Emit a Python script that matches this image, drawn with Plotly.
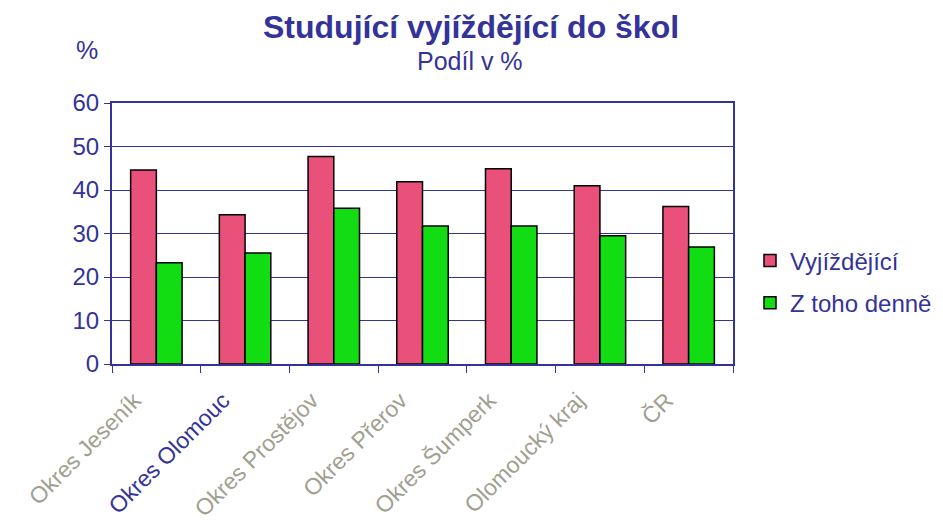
import plotly.graph_objects as go

categories = ["Okres Jeseník", "Okres Olomouc", "Okres Prostějov", "Okres Přerov",
              "Okres Šumperk", "Olomoucký kraj", "ČR"]
vyjizdejici = [44.6, 34.3, 47.7, 41.9, 44.9, 41.0, 36.2]
z_toho_denne = [23.3, 25.5, 35.8, 31.7, 31.7, 29.5, 26.9]
series_names = ["Vyjíždějící", "Z toho denně"]
y_ticks = [0, 10, 20, 30, 40, 50, 60]
label_colors = ["#A0A090", "#333399", "#A0A090", "#A0A090", "#A0A090", "#A0A090", "#A0A090"]

NAVY = "#333399"
FONT = "Liberation Sans, Arial, sans-serif"

ticktext = [f'<span style="color:{c}">{t}</span>' for t, c in zip(categories, label_colors)]

fig = go.Figure()
fig.add_trace(go.Bar(x=categories, y=vyjizdejici, name=series_names[0],
                     legendgroup="a",
                     marker=dict(color="#E9507A", line=dict(color="black", width=1.5))))
fig.add_trace(go.Bar(x=categories, y=z_toho_denne, name=series_names[1],
                     legendgroup="b",
                     marker=dict(color="#12DD12", line=dict(color="black", width=1.5))))

L, R, T, B = 112, 210, 103, 162
W, H = 943, 526
pw, ph = W - L - R, H - T - B

def px(x):
    return (x - L) / pw

def py(y):
    return (H - B - y) / ph

fig.update_layout(
    width=W, height=H,
    margin=dict(l=L, r=R, t=T, b=B, autoexpand=False),
    paper_bgcolor="white", plot_bgcolor="white",
    barmode="group", bargap=0.42, bargroupgap=0,
    font=dict(family=FONT, color=NAVY),
    showlegend=True,
    legend=dict(x=px(750), y=py(282), xanchor="left", yanchor="middle",
                font=dict(size=24, color=NAVY), tracegroupgap=8,
                bgcolor="rgba(0,0,0,0)"),
    annotations=[
        dict(text="<b>Studující vyjíždějící do škol</b>", x=px(471), y=py(27),
             xref="paper", yref="paper", xanchor="center", yanchor="middle", showarrow=False,
             font=dict(size=32, color=NAVY, family=FONT)),
        dict(text="Podíl v %", x=px(470), y=py(61),
             xref="paper", yref="paper", xanchor="center", yanchor="middle", showarrow=False,
             font=dict(size=25, color=NAVY, family=FONT)),
        dict(text="%", x=px(87), y=py(50),
             xref="paper", yref="paper", xanchor="center", yanchor="middle", showarrow=False,
             font=dict(size=25, color=NAVY, family=FONT)),
    ],
)

fig.update_xaxes(
    type="category", tickmode="array", tickvals=categories, ticktext=ticktext,
    tickangle=-45, tickfont=dict(size=23, family=FONT), automargin=False,
    showline=True, linecolor=NAVY, linewidth=2, mirror=True,
    ticks="outside", ticklen=7, tickcolor=NAVY, tickwidth=1,
    tickson="boundaries", showgrid=False,
    ticklabelstandoff=12, ticklabelshift=-22,
)
fig.update_yaxes(
    range=[0, 60], tickvals=y_ticks, tickfont=dict(size=24, color=NAVY, family=FONT),
    automargin=False,
    showline=True, linecolor=NAVY, linewidth=2, mirror=True,
    ticks="outside", ticklen=6, tickcolor=NAVY,
    showgrid=True, gridcolor=NAVY, gridwidth=1, zeroline=False,
)

fig.write_html("out.html", config={"displayModeBar": False},
               post_script="document.body.style.margin='0px';document.body.style.overflow='hidden';")
